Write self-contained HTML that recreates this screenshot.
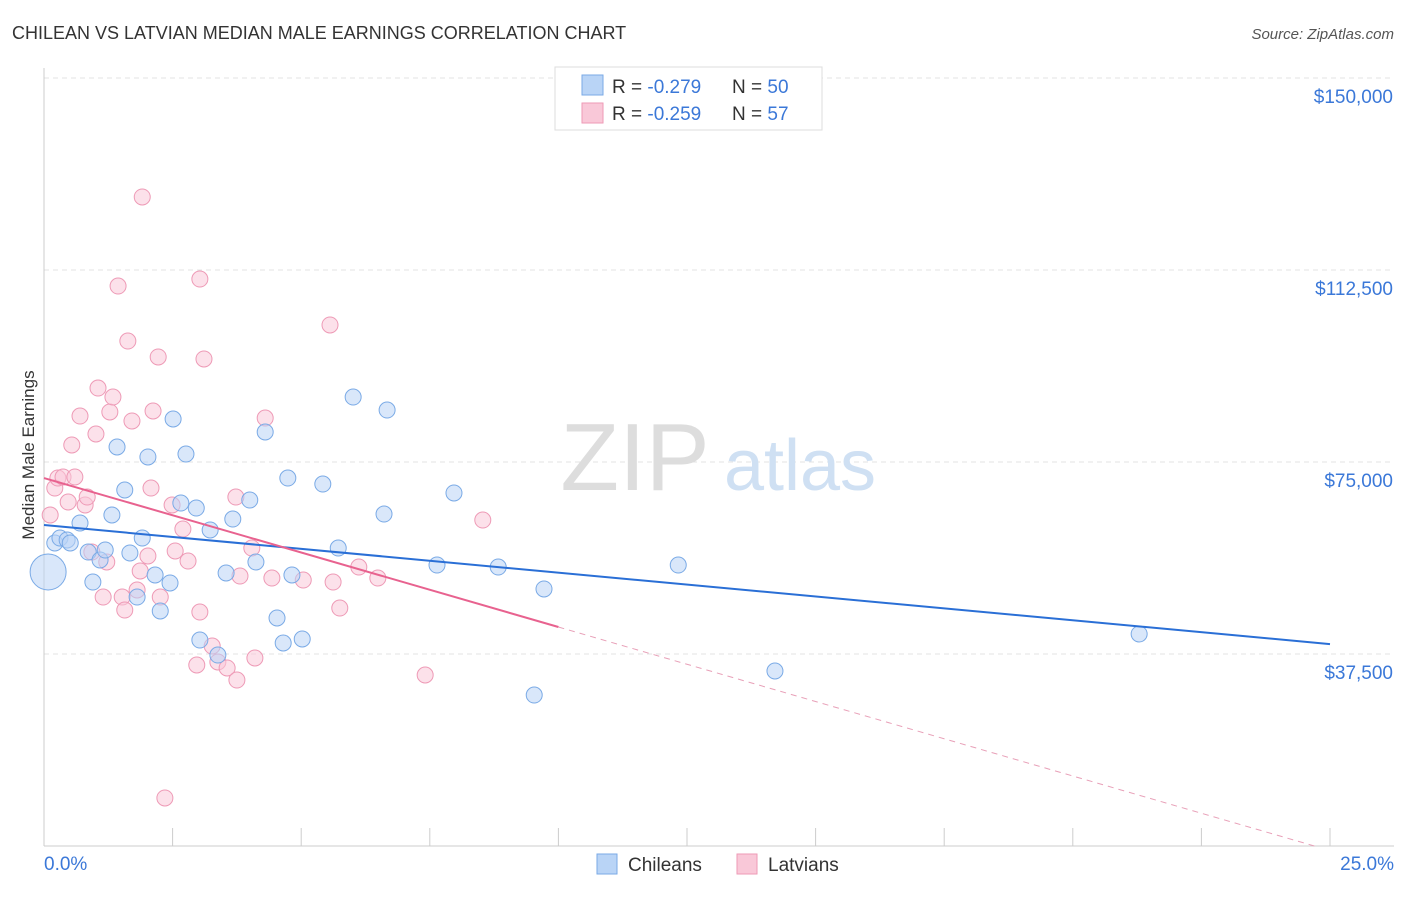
<!DOCTYPE html>
<html><head><meta charset="utf-8"><style>
body{margin:0;background:#fff;font-family:"Liberation Sans",sans-serif}
svg text{font-family:"Liberation Sans",sans-serif}
</style></head><body>
<svg id="chart" width="1406" height="892" viewBox="0 0 1406 892" xmlns="http://www.w3.org/2000/svg">
<text x="12" y="39" font-size="18" fill="#333">CHILEAN VS LATVIAN MEDIAN MALE EARNINGS CORRELATION CHART</text>
<text x="1394" y="39" font-size="15" fill="#555" text-anchor="end" font-style="italic">Source: ZipAtlas.com</text>
<text x="0" y="0" transform="translate(34,455) rotate(-90)" font-size="17" fill="#333" text-anchor="middle">Median Male Earnings</text>
<g id="grid"></g>
<g id="watermark">
<text x="635" y="490" font-size="96" fill="#ddd" font-family="Liberation Serif" text-anchor="middle">ZIP</text>
<text x="800" y="490" font-size="72" fill="#cfe0f3" text-anchor="middle">atlas</text>
</g>
<g id="axes"></g>
<g id="pts"></g>
<g id="lines"></g>
<g>
<rect x="555" y="67" width="267" height="63" fill="#fff" stroke="#ddd"/>
<rect x="582" y="75" width="21" height="20" fill="#b9d4f6" stroke="#7aaae6"/>
<rect x="582" y="103" width="21" height="20" fill="#f9c8d8" stroke="#ee9ab6"/>
<text x="612" y="93" font-size="19" fill="#333">R = <tspan fill="#3b78d8">-0.279</tspan></text>
<text x="732" y="93" font-size="19" fill="#333">N = <tspan fill="#3b78d8">50</tspan></text>
<text x="612" y="120" font-size="19" fill="#333">R = <tspan fill="#3b78d8">-0.259</tspan></text>
<text x="732" y="120" font-size="19" fill="#333">N = <tspan fill="#3b78d8"> 57</tspan></text>
</g>
<g>
<rect x="597" y="854" width="20" height="20" fill="#b9d4f6" stroke="#7aaae6"/>
<text x="628" y="871" font-size="19" fill="#333">Chileans</text>
<rect x="737" y="854" width="20" height="20" fill="#f9c8d8" stroke="#ee9ab6"/>
<text x="768" y="871" font-size="19" fill="#333">Latvians</text>
</g>
</svg>
<script>
const yTicks=[37500,75000,112500,150000];
const yTickLabels=["$37,500","$75,000","$112,500","$150,000"];
const blueX=[0.21,0.31,0.45,0.51,0.70,0.86,0.95,1.09,1.19,1.32,1.42,1.57,1.67,1.81,1.91,2.02,2.16,2.26,2.45,2.51,2.66,2.76,2.96,3.03,3.23,3.38,3.54,3.67,4.00,4.12,4.30,4.53,4.65,4.74,4.82,5.02,5.42,5.72,6.01,6.61,6.67,7.64,7.97,8.83,9.72,9.53,12.33,14.21,21.29,0.08];
const blueY=[59180,60150,59770,59180,63080,57420,51560,55860,57810,64650,77930,69530,57230,48630,60150,75980,52930,45900,51370,83400,66990,76560,66010,40230,61720,37300,53320,63860,67570,55470,80860,44530,39650,71870,52930,40430,70700,58200,87690,64840,85150,54880,68950,54490,50200,29490,54880,34180,41410,53520];
const pinkX=[0.12,0.21,0.27,0.37,0.47,0.54,0.60,0.70,0.80,0.84,0.93,1.01,1.05,1.15,1.22,1.28,1.34,1.44,1.52,1.57,1.63,1.71,1.81,1.87,1.91,2.02,2.08,2.12,2.22,2.26,2.35,2.49,2.55,2.70,2.80,2.97,3.03,3.03,3.11,3.27,3.38,3.56,3.75,3.73,3.81,4.04,4.10,4.30,4.43,5.04,5.56,5.62,5.75,6.12,6.49,7.41,8.53];
const pinkY=[64650,69920,71870,72070,67180,78320,72070,83980,66600,68160,57420,80470,89450,48630,55470,84770,87690,109370,48630,46090,98630,83010,50000,53710,126760,56640,69920,84960,95510,48630,9380,66600,57620,61910,55660,35350,110740,45700,95120,39060,35940,34770,32420,68160,52730,58200,36720,83590,52340,51950,101760,51560,46480,54490,52340,33400,63670];
const blueLine=[62690,-930];
const pinkLine=[71870,-2910];
const NS="http://www.w3.org/2000/svg";
const X0=44,X1=1330,Y0=846;
function sx(v){return X0+v/25*(X1-X0);}
function sy(v){return Y0-v/37500*192;}
function mk(t,a,p){const e=document.createElementNS(NS,t);for(const k in a)e.setAttribute(k,a[k]);p.appendChild(e);return e;}
const grid=document.getElementById('grid'),axes=document.getElementById('axes');
yTicks.forEach((t,i)=>{
 const l=mk('line',{x1:44,x2:1394,y1:sy(t),y2:sy(t),stroke:'#e3e3e3','stroke-dasharray':'5,4'},grid);
 
 
 const tx=mk('text',{x:1393,y:sy(t)+25,'font-size':19,fill:'#3b78d8','text-anchor':'end'},axes);
 tx.textContent=yTickLabels[i];
 
 
});
mk('line',{x1:44,x2:44,y1:68,y2:846,stroke:'#ccc'},axes);
mk('line',{x1:44,x2:1394,y1:846,y2:846,stroke:'#ccc'},axes);
for(let i=0;i<=10;i++){const x=sx(i*2.5);const t=mk('line',{x1:x,x2:x,y1:828,y2:846,stroke:'#ccc'},axes);
 
 }
const xl=mk('text',{x:44,y:870,'font-size':19,fill:'#3b78d8'},axes);xl.textContent='0.0%';


const xr=mk('text',{x:1394,y:870,'font-size':19,fill:'#3b78d8','text-anchor':'end'},axes);xr.textContent='25.0%';


const pts=document.getElementById('pts');
function dots(X,Y,fill,stroke,name){X.forEach((x,i)=>{const big=(i===X.length-1&&name==='chilean-point');
 const c=mk('circle',{cx:sx(x),cy:sy(Y[i]),r:big?18:8,fill:fill,'fill-opacity':0.55,stroke:stroke,'stroke-width':1},pts);
 
 });}
dots(pinkX,pinkY,'#f9c8d8','#ee9ab6','latvian-point');
dots(blueX,blueY,'#b9d4f6','#7aaae6','chilean-point');
const lines=document.getElementById('lines');
const bl=mk('line',{x1:sx(0),y1:sy(blueLine[0]),x2:sx(25),y2:sy(blueLine[0]+blueLine[1]*25),stroke:'#2a6fd6','stroke-width':2},lines);


const pl=mk('line',{x1:sx(0),y1:sy(pinkLine[0]),x2:sx(10),y2:sy(pinkLine[0]+pinkLine[1]*10),stroke:'#e8628f','stroke-width':2},lines);


const xe=-pinkLine[0]/pinkLine[1];
const pd=mk('line',{x1:sx(10),y1:sy(pinkLine[0]+pinkLine[1]*10),x2:sx(xe),y2:sy(0),stroke:'#e8a0b8','stroke-width':1,'stroke-dasharray':'6,5'},lines);


</script>
</body></html>
